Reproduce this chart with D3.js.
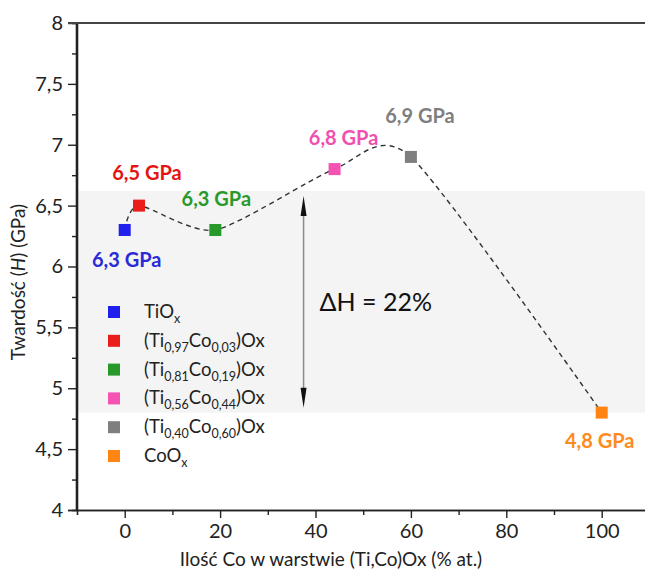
<!DOCTYPE html>
<html><head><meta charset="utf-8">
<script src="https://cdn.jsdelivr.net/npm/d3@7"></script>
<style>body{margin:0;background:#fff}svg{display:block}text{font-family:Lato,"Open Sans",sans-serif}</style>
</head><body><svg id="c" width="645" height="581"></svg>
<script>
// ---- data ----
const compositions = [0, 3, 19, 44, 60, 100];            // % at. Co
const hardness     = [6.3, 6.5, 6.3, 6.8, 6.9, 4.8];     // GPa
const valueLabels  = ["6,3 GPa","6,5 GPa","6,3 GPa","6,8 GPa","6,9 GPa","4,8 GPa"];
const legendNames  = [
  [["TiO",""],["x","sub"]],
  [["(Ti",""],["0,97","sub"],["Co",""],["0,03","sub"],[")Ox",""]],
  [["(Ti",""],["0,81","sub"],["Co",""],["0,19","sub"],[")Ox",""]],
  [["(Ti",""],["0,56","sub"],["Co",""],["0,44","sub"],[")Ox",""]],
  [["(Ti",""],["0,40","sub"],["Co",""],["0,60","sub"],[")Ox",""]],
  [["CoO",""],["x","sub"]]
];
const xTicks = [0, 20, 40, 60, 80, 100];
const yTicks = [4, 4.5, 5, 5.5, 6, 6.5, 7, 7.5, 8];
const bandRange = [4.8, 6.62];
const deltaLabel = "ΔH = 22%";

// ---- styles / layout ----
const colors = ["#1f1fee", "#ea1c1c", "#26992a", "#f552b4", "#7f7f7f", "#ff8412"];
const labelColors = ["#2a2ad6", "#e41414", "#2a992c", "#f050b0", "#7f7f7f", "#ff8a1e"];
const labelOffsets = [[2,37],[8,-26],[1,-24],[9,-24],[9,-34],[-2,35]];

const svg = d3.select("#c");
const x = d3.scaleLinear().domain([-10, 110]).range([77, 649.4]);
const y = d3.scaleLinear().domain([4, 8]).range([510, 23]);

// band
svg.append("rect")
  .attr("x", x(-10)).attr("width", 645 - x(-10))
  .attr("y", y(bandRange[1])).attr("height", y(bandRange[0]) - y(bandRange[1]))
  .attr("fill", "#f4f4f4");

// axes
const axisColor = "#222";
const gx = svg.append("g").attr("transform", `translate(0,${y(4)})`);
gx.call(d3.axisBottom(x).tickValues(xTicks).tickSize(8).tickPadding(6).tickFormat(d3.format("d")));
const gxm = svg.append("g").attr("transform", `translate(0,${y(4)})`);
gxm.call(d3.axisBottom(x).tickValues([10,30,50,70,90]).tickSize(5).tickFormat(""));
const gy = svg.append("g").attr("transform", `translate(${x(-10)},0)`);
gy.call(d3.axisLeft(y).tickValues(yTicks).tickSize(9).tickPadding(5).tickFormat(d => String(d).replace(".", ",")));
const gym = svg.append("g").attr("transform", `translate(${x(-10)},0)`);
gym.call(d3.axisLeft(y).tickValues(d3.range(4.25, 8, 0.5)).tickSize(5).tickFormat(""));
[gx, gxm, gy, gym].forEach(g => {
  g.select(".domain").attr("stroke", axisColor).attr("stroke-width", 1.6);
  g.selectAll(".tick line").attr("stroke", axisColor).attr("stroke-width", 1.4);
  g.selectAll(".tick text").attr("fill", "#222").attr("font-size", 20).style("font-family", "Lato");
});
gx.selectAll(".domain").attr("d", `M${x(-10) - 9},0.5H649.4`);
gy.selectAll(".domain").attr("d", `M-0.5,${y(4)}V${y(8)}`);
// top frame
svg.append("line").attr("x1", x(-10) - 9).attr("x2", 645).attr("y1", y(8)).attr("y2", y(8))
  .attr("stroke", "#444").attr("stroke-width", 2);

// arrow
const arrowX = x(37.5);
const tipTop = y(6.58), tipBot = y(4.84);
svg.append("line").attr("x1", arrowX).attr("x2", arrowX)
  .attr("y1", tipTop + 10).attr("y2", tipBot - 10)
  .attr("stroke", "#8a8a8a").attr("stroke-width", 1.5);
svg.append("path").attr("d", `M${arrowX},${tipTop} L${arrowX - 3},${tipTop + 20} L${arrowX + 3},${tipTop + 20} Z`).attr("fill", "#111");
svg.append("path").attr("d", `M${arrowX},${tipBot} L${arrowX - 3},${tipBot - 20} L${arrowX + 3},${tipBot - 20} Z`).attr("fill", "#111");
svg.append("text").attr("x", arrowX + 16).attr("y", (tipTop + tipBot) / 2 + 9)
  .attr("font-size", 25).attr("fill", "#111").text(deltaLabel);

// curve
const pts = compositions.map((c, i) => [c, hardness[i]]);
svg.append("path").datum(pts)
  .attr("d", d3.line().x(d => x(d[0])).y(d => y(d[1])).curve(d3.curveCardinal.tension(0.3)))
  .attr("fill", "none").attr("stroke", "#333").attr("stroke-width", 1.4).attr("stroke-dasharray", "5,4");

// markers
const sq = 12;
svg.selectAll("rect.pt").data(pts).join("rect").attr("class", "pt")
  .attr("x", d => x(d[0]) - sq / 2).attr("y", d => y(d[1]) - sq / 2)
  .attr("width", sq).attr("height", sq).attr("fill", (d, i) => colors[i]);

// value labels
svg.selectAll("text.vl").data(pts).join("text").attr("class", "vl")
  .attr("x", (d, i) => x(d[0]) + labelOffsets[i][0])
  .attr("y", (d, i) => y(d[1]) + labelOffsets[i][1])
  .attr("text-anchor", "middle").attr("font-size", 20).attr("font-weight", 700)
  .attr("fill", (d, i) => labelColors[i]).text((d, i) => valueLabels[i]);

// legend
const lg = svg.append("g");
legendNames.forEach((parts, i) => {
  const cy = 312 + i * 28.8;
  lg.append("rect").attr("x", 108).attr("y", cy - 6).attr("width", 12).attr("height", 12).attr("fill", colors[i]);
  const t = lg.append("text").attr("x", 144).attr("y", cy + 6).attr("font-size", 18.5).attr("fill", "#222");
  parts.forEach(([s, k], j) => {
    const prev = j > 0 ? parts[j - 1][1] : "";
    const ts = t.append("tspan").text(s);
    if (k === "sub") ts.attr("font-size", 12.5).attr("dy", prev === "sub" ? 0 : 5);
    else ts.attr("dy", prev === "sub" ? -5 : 0);
  });
});

// axis titles
svg.append("text").attr("x", 331).attr("y", 566).attr("text-anchor", "middle")
  .attr("font-size", 19).attr("fill", "#222").text("Ilość Co w warstwie (Ti,Co)Ox (% at.)");
const yt = svg.append("text").attr("transform", `translate(25,282) rotate(-90)`)
  .attr("text-anchor", "middle").attr("font-size", 19).attr("fill", "#222");
yt.append("tspan").text("Twardość (");
yt.append("tspan").attr("font-style", "italic").text("H");
yt.append("tspan").text(") (GPa)");
</script></body></html>
